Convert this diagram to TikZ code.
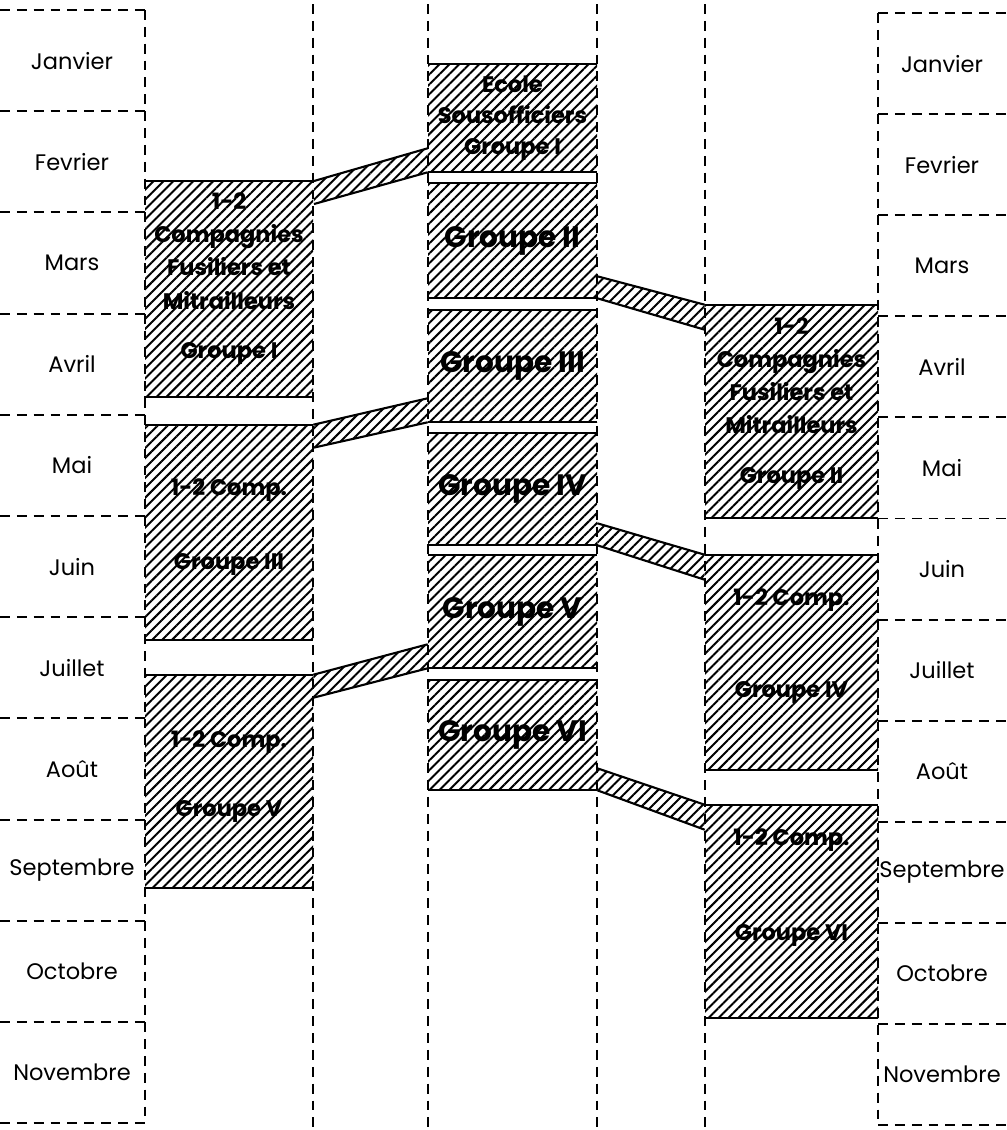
\documentclass[tikz,border=0pt]{standalone}
\usepackage{fontspec}
\setmainfont{Poppins}
\usetikzlibrary{calc, fit, patterns.meta}
\tikzset{
  colline/.style={line width=1.3pt, dash pattern=on 7pt off 5pt},
  month/.style={font=\fontsize{16}{19}\selectfont, inner sep=0pt},
  hbox/.style={
    rectangle, inner sep=0pt,
    pattern={Lines[angle=45, distance=5pt, line width=1.4pt]},
  },
  boxtxt/.style={inner sep=0pt, align=center, font=\fontsize{16}{23.5}\selectfont\bfseries},
  mtxt/.style={boxtxt, font=\fontsize{21}{22}\selectfont\bfseries},
  rimline/.style={line width=1.5pt},
  bandpath/.style={pattern={Lines[angle=45, distance=5pt, line width=1.4pt]}},
}

\begin{document}
\begin{tikzpicture}[x=0.25mm, y=-0.25mm]
\useasboundingbox (0,0) rectangle (1006,1130);

% =====================================================================
%  MONTH COLUMNS (left and right)
% =====================================================================
\foreach \i in {0,...,11} {
  \draw[colline] (0, 10+101.2*\i) -- (145, 10+101.2*\i);
  \draw[colline] (878, 13+101.1*\i) -- (1006, 13+101.1*\i);
}
\foreach \m [count=\i from 0] in {Janvier,Fevrier,Mars,Avril,Mai,Juin,Juillet,Août,Septembre,Octobre,Novembre} {
  \node[month] (ml\i) at (72, 60.6+101.2*\i) {\m};
  \node[month] (mr\i) at (942, 63.6+101.1*\i) {\m};
}

% column borders
\draw[colline] (145,10) -- (145,1123);
\foreach \x in {313,428,597,705} {
  \draw[colline] (\x,4) -- (\x,1130);
}
\draw[colline] (878,13) -- (878,1125);

% =====================================================================
%  HATCHED BOXES
% =====================================================================
% left column
\node[hbox, fit={(145,182) (313,396)}] (l1) {};
\node[hbox, fit={(145,425) (313,640)}] (l2) {};
\node[hbox, fit={(145,675) (313,888)}] (l3) {};
% middle column
\node[hbox, fit={(428,64) (597,172)}] (m1) {};
\node[hbox, fit={(428,183) (597,298)}] (m2) {};
\node[hbox, fit={(428,310) (597,422)}] (m3) {};
\node[hbox, fit={(428,433) (597,545)}] (m4) {};
\node[hbox, fit={(428,555) (597,668)}] (m5) {};
\node[hbox, fit={(428,680) (597,790)}] (m6) {};
% right column
\node[hbox, fit={(705,305) (878,518)}] (r1) {};
\node[hbox, fit={(705,555) (878,770)}] (r2) {};
\node[hbox, fit={(705,805) (878,1018)}] (r3) {};

% top and bottom edges of every box
\foreach \b in {l1,l2,l3,m1,m2,m3,m4,m5,m6,r1,r2,r3} {
  \draw[rimline] (\b.north west) -- (\b.north east) (\b.south west) -- (\b.south east);
}

% texts in the boxes
\node[boxtxt] (l1t) at ($(l1.north)+(0,98)$)
  {1-2\\Compagnies\\Fusiliers et\\Mitrailleurs\\[12pt]Groupe I};
\node[boxtxt] (l2t) at ($(l2.north)+(0,102)$) {1-2 Comp.\\[29pt]Groupe III};
\node[boxtxt] (l3t) at ($(l3.north)+(0,102)$) {1-2 Comp.\\[26pt]Groupe V};

\node[boxtxt, font=\fontsize{16}{22}\selectfont\bfseries] (m1t) at (m1) {Ecole\\Sousofficiers\\Groupe I};
\foreach \b/\g in {m2/II, m3/III, m4/IV, m5/V, m6/VI} {
  \node[mtxt] (\b t) at (\b) {Groupe \g};
}

\node[boxtxt] (r1t) at ($(r1.north)+(0,99)$)
  {1-2\\Compagnies\\Fusiliers et\\Mitrailleurs\\[12pt]Groupe II};
\node[boxtxt] (r2t) at ($(r2.north)+(0,91)$) {1-2 Comp.\\[42pt]Groupe IV};
\node[boxtxt] (r3t) at ($(r3.north)+(0,83)$) {1-2 Comp.\\[44pt]Groupe VI};

% =====================================================================
%  BANDS BETWEEN COLUMNS
% =====================================================================
\foreach \a/\b in {l1/m1, l2/m3, l3/m5} {
  \path[bandpath] (\a.north east) -- ($(\b.south west)+(0,-24)$)
    -- (\b.south west) -- ($(\a.north east)+(0,23)$) -- cycle;
  \draw[rimline] (\a.north east) -- ($(\b.south west)+(0,-24)$)
    ($(\a.north east)+(0,23)$) -- (\b.south west);
}
\foreach \a/\b in {m2/r1, m4/r2, m6/r3} {
  \path[bandpath] ($(\a.south east)+(0,-22)$) -- (\b.north west)
    -- ($(\b.north west)+(0,25)$) -- (\a.south east) -- cycle;
  \draw[rimline] ($(\a.south east)+(0,-22)$) -- (\b.north west)
    (\a.south east) -- ($(\b.north west)+(0,25)$);
}

\end{tikzpicture}
\end{document}
